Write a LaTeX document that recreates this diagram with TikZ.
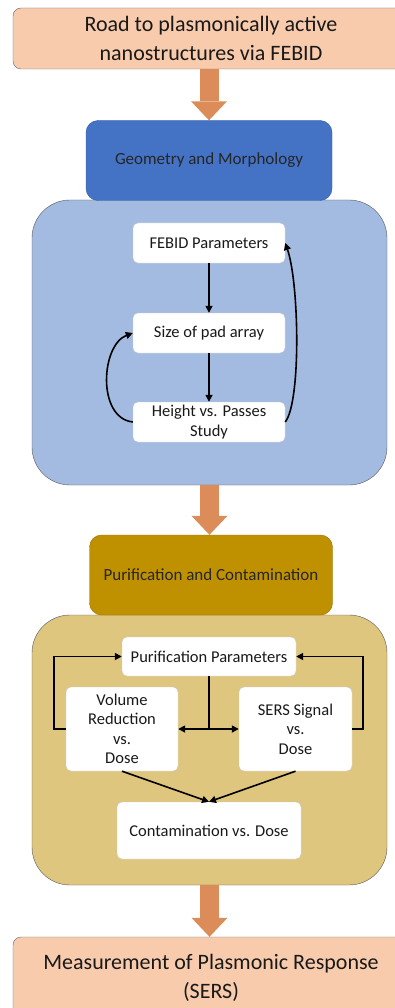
\documentclass[tikz,border=0pt]{standalone}
\usepackage{fontspec}
\setmainfont{Carlito}
\usetikzlibrary{arrows.meta}
\definecolor{peach}{HTML}{F8CBAD}
\definecolor{darkblue}{HTML}{4472C4}
\definecolor{lightblue}{HTML}{A3BBE1}
\definecolor{darkgold}{HTML}{BF9000}
\definecolor{lightgold}{HTML}{DEC67E}
\definecolor{bigarrow}{HTML}{DC8C59}
\begin{document}
\begin{tikzpicture}[x=1pt,y=-1pt,
    endbox/.style={draw=gray!80!black, fill=peach, rounded corners=8pt, align=center,
        font=\fontsize{22}{29}\selectfont, text=black!90},
    headbox/.style={rounded corners=12pt, align=center, font=\fontsize{17}{20}\selectfont,
        text=black!85, minimum height=80pt},
    panel/.style={draw=gray!70!black, rounded corners=38pt},
    stepbox/.style={draw=gray!40, fill=white, rounded corners=5pt, align=center,
        font=\fontsize{16.5}{19.5}\selectfont, text=black!90, inner sep=2pt},
    flow/.style={line width=1.6pt, -{Triangle[length=7pt,width=7pt]}},
    bigflow/.style={bigarrow, line width=19pt, -{Triangle[length=19pt,width=36pt,line width=0pt]}}]
    \useasboundingbox (0,0) rectangle (395,1008);
    \def\mid{209.5}
    % top and bottom
    \node[endbox, minimum width=396pt, minimum height=61pt] (road) at (211,38.5)
        {Road to plasmonically active\\nanostructures via FEBID};
    \node[endbox, minimum width=396pt, minimum height=82pt] (meas) at (211,978)
        {Measurement of Plasmonic Response\\(SERS)};
    % geometry part
    \node[panel, fill=lightblue, minimum width=355pt, minimum height=285pt] (geopanel) at (\mid,342.5) {};
    \node[headbox, draw=darkblue!80!black, fill=darkblue, minimum width=246pt] (geo) at (209,160.5)
        {Geometry and Morphology};
    \node[stepbox, minimum width=152pt, minimum height=40pt] (febid) at (209,243) {FEBID Parameters};
    \node[stepbox, minimum width=152pt, minimum height=40pt] (pad) at (209,333) {Size of pad array};
    \node[stepbox, minimum width=152pt, minimum height=40pt] (height) at (209,422) {Height vs. Passes\\Study};
    \draw[flow] (febid) -- (pad);
    \draw[flow] (pad) -- (height);
    \draw[flow] (height.west) .. controls +(-36,-4) and +(-32,12) .. (pad.west);
    \draw[flow] (height.east) .. controls +(16,-20) and +(14,40) .. (febid.east);
    % purification part
    \node[panel, fill=lightgold, minimum width=355pt, minimum height=270pt] (purpanel) at (\mid,750) {};
    \node[headbox, draw=darkgold!80!black, fill=darkgold, minimum width=243pt] (pur) at (211,575)
        {Purification and Contamination};
    \node[stepbox, minimum width=174pt, minimum height=39pt] (purpar) at (209,656.5) {Purification Parameters};
    \node[stepbox, minimum width=112pt, minimum height=84pt] (vol) at (122,729) {Volume\\Reduction\\vs.\\Dose};
    \node[stepbox, minimum width=113pt, minimum height=84pt] (sers) at (295.5,729) {SERS Signal\\vs.\\Dose};
    \node[stepbox, minimum width=184pt, minimum height=57pt] (cont) at (209,830.5) {Contamination vs. Dose};
    \coordinate (split) at (purpar.south |- vol.east);
    \draw[line width=1.6pt] (purpar.south) -- (split);
    \draw[flow] (split) -- (vol.east);
    \draw[flow] (split) -- (sers.west);
    \draw[flow] (vol.west) -- ++(-12,0) |- (purpar.west);
    \draw[flow] (sers.east) -- ++(11,0) |- (purpar.east);
    \draw[flow] (vol.south) -- (cont.north);
    \draw[flow] (sers.south) -- (cont.north);
    % big arrows
    \draw[bigflow] (geo.north |- road.south) -- (geo.north);
    \draw[bigflow] (geopanel.south) -- (geopanel.south |- pur.north);
    \draw[bigflow] (purpanel.south) -- (purpanel.south |- meas.north);
\end{tikzpicture}
\end{document}
